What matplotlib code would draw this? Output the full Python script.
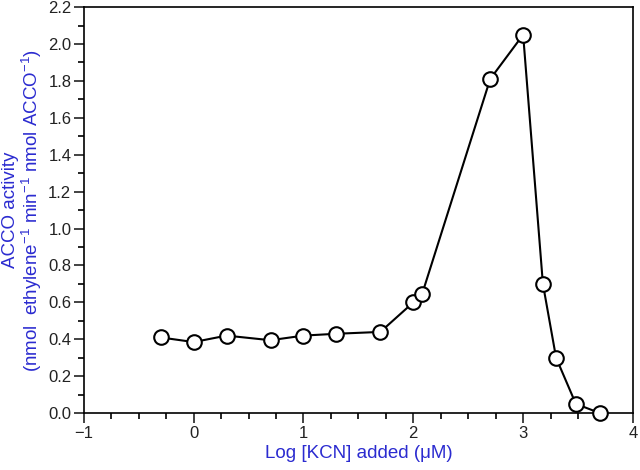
import matplotlib
matplotlib.use("Agg")
import matplotlib.pyplot as plt
from matplotlib.ticker import MultipleLocator, FormatStrFormatter

plt.rcParams['font.family'] = ['Liberation Sans', 'DejaVu Sans']
plt.rcParams['mathtext.fontset'] = 'custom'
plt.rcParams['mathtext.rm'] = 'Liberation Sans'
plt.rcParams['axes.unicode_minus'] = True

# log [KCN] added (uM) vs ACCO activity
log_kcn = [-0.3, 0.0, 0.3, 0.7, 1.0, 1.3, 1.7, 2.0, 2.08, 2.7, 3.0, 3.18, 3.3, 3.48, 3.7]
activity = [0.41, 0.385, 0.42, 0.395, 0.42, 0.43, 0.44, 0.60, 0.645, 1.81, 2.05, 0.70, 0.30, 0.05, 0.0]

label_blue = '#2b2bd0'

fig = plt.figure(figsize=(6.4, 4.7), dpi=100)
ax = fig.add_axes([0.131, 0.121, 0.858, 0.864])

ax.plot(log_kcn, activity, color='black', lw=1.5, marker='o', ms=10.5,
        mfc='white', mec='black', mew=1.5, clip_on=False, zorder=3)

ax.set_xlim(-1, 4)
ax.set_ylim(0, 2.2)
ax.xaxis.set_major_locator(MultipleLocator(1))
ax.xaxis.set_minor_locator(MultipleLocator(0.25))
ax.yaxis.set_major_locator(MultipleLocator(0.2))
ax.yaxis.set_minor_locator(MultipleLocator(0.1))
ax.yaxis.set_major_formatter(FormatStrFormatter('%.1f'))

ax.tick_params(which='major', direction='out', length=7, width=1.2,
               labelsize=12, colors='#222222', pad=2)
ax.tick_params(which='minor', direction='out', length=4, width=1.2)
for s in ax.spines.values():
    s.set_linewidth(1.2)

ax.set_xlabel(r'Log [KCN] added (μM)', color=label_blue, fontsize=13.5, labelpad=3)
ax.set_ylabel('ACCO activity\n'
              r'(nmol  ethylene$^{-1}$ min$^{-1}$ nmol ACCO$^{-1}$)',
              color=label_blue, fontsize=13.5, labelpad=3, linespacing=1.0)

fig.savefig('out.png', dpi=100)
